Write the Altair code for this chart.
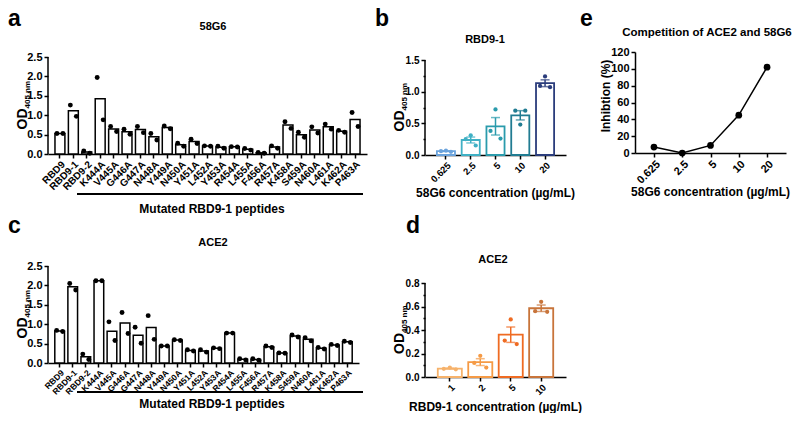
import altair as alt
import pandas as pd

FONT = "Liberation Sans"

peptides = ["RBD9", "RBD9-1", "RBD9-2", "K444A", "V445A", "G446A", "G447A", "N448A",
            "Y449A", "N450A", "Y451A", "L452A", "Y453A", "R454A", "L455A", "F456A",
            "R457A", "K458A", "S459A", "N460A", "L461A", "K462A", "P463A"]

# panel a: 58G6 binding (two replicates)
a_rep1 = [0.53, 1.26, 0.08, 1.97, 0.71, 0.64, 0.71, 0.53, 0.72, 0.28, 0.38, 0.21,
          0.20, 0.19, 0.14, 0.04, 0.21, 0.83, 0.56, 0.70, 0.77, 0.61, 1.07]
a_rep2 = [0.53, 0.97, 0.02, 0.88, 0.58, 0.51, 0.55, 0.36, 0.65, 0.20, 0.27, 0.20,
          0.15, 0.18, 0.10, 0.02, 0.15, 0.66, 0.43, 0.54, 0.64, 0.56, 0.71]

# panel c: ACE2 binding (two replicates)
c_rep1 = [0.84, 2.05, 0.23, 2.12, 1.06, 1.30, 0.92, 1.22, 0.44, 0.60, 0.34, 0.34,
          0.39, 0.77, 0.11, 0.11, 0.44, 0.26, 0.72, 0.65, 0.40, 0.48, 0.56]
c_rep2 = [0.81, 1.88, 0.09, 2.12, 0.58, 0.76, 0.51, 0.61, 0.44, 0.58, 0.31, 0.28,
          0.37, 0.77, 0.08, 0.07, 0.40, 0.25, 0.67, 0.57, 0.36, 0.45, 0.53]

# panel b: RBD9-1 vs 58G6 concentration (three replicates)
b_conc = ["0.625", "2.5", "5", "10", "20"]
b_rep1 = [0.07, 0.31, 0.72, 0.48, 1.24]
b_rep2 = [0.06, 0.25, 0.38, 0.70, 1.09]
b_rep3 = [0.05, 0.15, 0.26, 0.70, 1.07]
b_colors = ["#6ba3dc", "#3fb0c4", "#2a9bac", "#217c92", "#2b3d7c"]

# panel d: ACE2 vs RBD9-1 concentration (three replicates)
d_conc = ["1", "2", "5", "10"]
d_rep1 = [0.08, 0.18, 0.49, 0.64]
d_rep2 = [0.07, 0.12, 0.31, 0.56]
d_rep3 = [0.065, 0.08, 0.28, 0.555]
d_colors = ["#f6b26b", "#f59a45", "#ef6b22", "#c8743a"]

# panel e: competition
e_conc = ["0.625", "2.5", "5", "10", "20"]
e_inhib = [7, 0, 9, 45, 102]


def txt(text, x, y, size, angle=0, align="left", baseline="alphabetic"):
    return alt.Chart(pd.DataFrame({"t": [text]})).mark_text(
        font=FONT, fontSize=size, fontWeight="bold", angle=angle, align=align,
        baseline=baseline, color="black"
    ).encode(text="t:N", x=alt.value(x), y=alt.value(y))


def od_title(h, tp):
    return [txt("OD", -21, tp + h / 2 + 24, 14, angle=270),
            txt("405 nm", -18, tp + h / 2 + 3, 8, angle=270)]


def spacer(w, h):
    return alt.Chart(pd.DataFrame({"z": [0]})).mark_point(opacity=0, size=1).encode(
        x=alt.value(0), y=alt.value(0)).properties(width=w, height=h)


def y_line(ymax, yscale, yaxis):
    # y axis line drawn only from 0 up to the top tick
    return alt.Chart(pd.DataFrame({"lo": [0.0], "hi": [ymax]})).mark_rule(
        color="black", strokeWidth=1.5).encode(
        x=alt.value(0), y=alt.Y("lo:Q", scale=yscale, axis=yaxis, title=None), y2="hi:Q")


def peptide_panel(r1, r2, w, h, tp, lab_size, letter, letter_y, title, title_y, ul_y, xt_y):
    n = len(peptides)
    df = pd.DataFrame({"pep": peptides + peptides, "od": r1 + r2, "rep": [1] * n + [2] * n})
    xenc = alt.X("pep:N", sort=peptides, title=None,
                 scale=alt.Scale(paddingInner=0.26, paddingOuter=0.52),
                 axis=alt.Axis(labelAngle=-45, labelFontSize=lab_size, labelPadding=1,
                               labelOverlap=False))
    ymax = 2.5
    yscale = alt.Scale(domain=[0, ymax * (h + tp) / h], nice=False)
    yaxis = alt.Axis(values=[0, 0.5, 1, 1.5, 2, 2.5], format=".1f", labelFontSize=11,
                     domain=False, labelOverlap=False)
    base = alt.Chart(df)
    bars = base.mark_bar(fill="white", stroke="black", strokeWidth=1.5).encode(
        x=xenc, y=alt.Y("mean(od):Q", scale=yscale, axis=yaxis, title=None))
    p1 = base.transform_filter(alt.datum.rep == 1).mark_circle(
        size=24, color="black", opacity=1, xOffset=-3).encode(
        x=xenc, y=alt.Y("od:Q", scale=yscale, axis=yaxis, title=None))
    p2 = base.transform_filter(alt.datum.rep == 2).mark_circle(
        size=24, color="black", opacity=1, xOffset=3).encode(
        x=xenc, y=alt.Y("od:Q", scale=yscale, axis=yaxis, title=None))
    ul = alt.Chart(pd.DataFrame({"z": [0]})).mark_rule(color="black", strokeWidth=2).encode(
        x=alt.value(29), x2=alt.value(315), y=alt.value(tp + ul_y))
    texts = [txt(letter, -40, tp + letter_y, 23),
             txt(title, 165, tp + title_y, 11, align="center", baseline="middle"),
             txt("Mutated RBD9-1 peptides", 164, tp + xt_y, 12, align="center", baseline="middle")]
    texts += od_title(h, tp)
    return alt.layer(bars, p1, p2, y_line(ymax, yscale, yaxis), ul, *texts).properties(
        width=w, height=h + tp)


def conc_panel(concs, reps, colors, w, h, tp, ymax, yvals, major_expr, pi, po, offs,
               letter, lx, ly, title, tx, ty, xtitle, xty):
    rows = []
    for r, vals in enumerate(reps, start=1):
        for c, v in zip(concs, vals):
            rows.append({"conc": c, "od": v, "rep": r})
    df = pd.DataFrame(rows)
    cscale = alt.Scale(domain=concs, range=colors)
    xenc = alt.X("conc:N", sort=concs, title=None,
                 scale=alt.Scale(paddingInner=pi, paddingOuter=po),
                 axis=alt.Axis(labelAngle=-45, labelFontSize=9.5, labelPadding=1,
                               labelOverlap=False))
    yscale = alt.Scale(domain=[0, ymax * (h + tp) / h], nice=False)
    yaxis = alt.Axis(values=yvals, labelFontSize=10, domain=False, labelOverlap=False,
                     labelExpr=f"{major_expr} ? format(datum.value, '.1f') : ''",
                     tickSize={"condition": {"test": f"!({major_expr})", "value": 2}, "value": 4})
    base = alt.Chart(df)
    bars = base.mark_bar(fill="white", strokeWidth=1.8).encode(
        x=xenc, y=alt.Y("mean(od):Q", scale=yscale, axis=yaxis, title=None),
        stroke=alt.Stroke("conc:N", scale=cscale, legend=None))
    err = base.mark_errorbar(extent="stderr", thickness=1.5,
                             ticks={"size": 9, "thickness": 1.5}).encode(
        x=xenc, y=alt.Y("od:Q", scale=yscale, axis=yaxis, title=None),
        color=alt.Color("conc:N", scale=cscale, legend=None))
    pts = []
    for r, off in zip([1, 2, 3], offs):
        pts.append(base.transform_filter(alt.datum.rep == r).mark_circle(
            size=18, opacity=1, xOffset=off).encode(
            x=xenc, y=alt.Y("od:Q", scale=yscale, axis=yaxis, title=None),
            color=alt.Color("conc:N", scale=cscale, legend=None)))
    texts = [txt(letter, lx, tp + ly, 23),
             txt(title, tx, tp + ty, 11, align="center", baseline="middle"),
             txt(xtitle, w / 2, tp + xty, 12, align="center", baseline="middle")]
    texts += od_title(h, tp)
    return alt.layer(bars, err, *pts, y_line(ymax, yscale, yaxis), *texts).properties(
        width=w, height=h + tp)


a = peptide_panel(a_rep1, a_rep2, 319, 97, 5, 10, "a", -31, "58G6", -30, 137, 152)
c = peptide_panel(c_rep1, c_rep2, 311, 97, 0, 8.5, "c", -33, "ACE2", -23, 126, 138)

b = conc_panel(b_conc, [b_rep1, b_rep2, b_rep3], b_colors, 141, 95, 8, 1.5,
               [0, 0.25, 0.5, 0.75, 1.0, 1.25, 1.5], "round(datum.value*100) % 50 == 0",
               0.27, 0.48, [0, -5, 5], "b", -50, -34, "RBD9-1", 60, -20,
               "58G6 concentration (µg/mL)", 133)
d = conc_panel(d_conc, [d_rep1, d_rep2, d_rep3], d_colors, 141, 94, 17, 0.8,
               [0, 0.1, 0.2, 0.3, 0.4, 0.5, 0.6, 0.7, 0.8], "round(datum.value*10) % 2 == 0",
               0.21, 0.42, [0, -6, 6], "d", -19, -50, "ACE2", 68, -23,
               "RBD9-1 concentration (µg/mL)", 124)

df_e = pd.DataFrame({"conc": e_conc, "inh": e_inhib})
ex = alt.X("conc:O", sort=e_conc, title=None,
           scale=alt.Scale(type="point", padding=0.67),
           axis=alt.Axis(labelAngle=-45, labelFontSize=11, labelPadding=1, labelOverlap=False))
ey = alt.Y("inh:Q", scale=alt.Scale(domain=[0, 120], nice=False),
           axis=alt.Axis(values=list(range(0, 121, 20)), labelFontSize=11, labelOverlap=False),
           title=None)
ebase = alt.Chart(df_e)
e_line = ebase.mark_line(color="black", strokeWidth=1.5).encode(x=ex, y=ey)
e_pts = ebase.mark_circle(size=45, color="black", opacity=1).encode(x=ex, y=ey)
e = alt.layer(
    e_line, e_pts,
    txt("e", -55, -26, 23),
    txt("Competition of ACE2 and 58G6", 72, -19, 11.5, align="center", baseline="middle"),
    txt("Inhibtion (%)", -29.5, 44, 12, angle=270, align="center", baseline="middle"),
    txt("58G6 concentration (µg/mL)", 75.5, 140, 12, align="center", baseline="middle"),
).properties(width=151, height=101)

# flat 5-column flow grid (align none): panels + spacer cells
cells = [
    a, spacer(55, 1), b, spacer(69, 1), e,
    c, spacer(58, 1), d, spacer(1, 1), spacer(1, 1),
]

chart = alt.concat(*cells, columns=5, align="none", bounds="flush",
                   spacing={"row": 111, "column": 0}).resolve_scale(
    color="independent", stroke="independent"
).properties(padding=0).configure_view(stroke=None).configure_axis(
    labelFont=FONT, labelFontWeight="bold", labelColor="black",
    domainColor="black", domainWidth=1.5, tickColor="black", tickWidth=1.5,
    tickSize=4, labelPadding=2, grid=False
)

chart.save("out.html", embed_options={"renderer": "svg", "actions": False})
